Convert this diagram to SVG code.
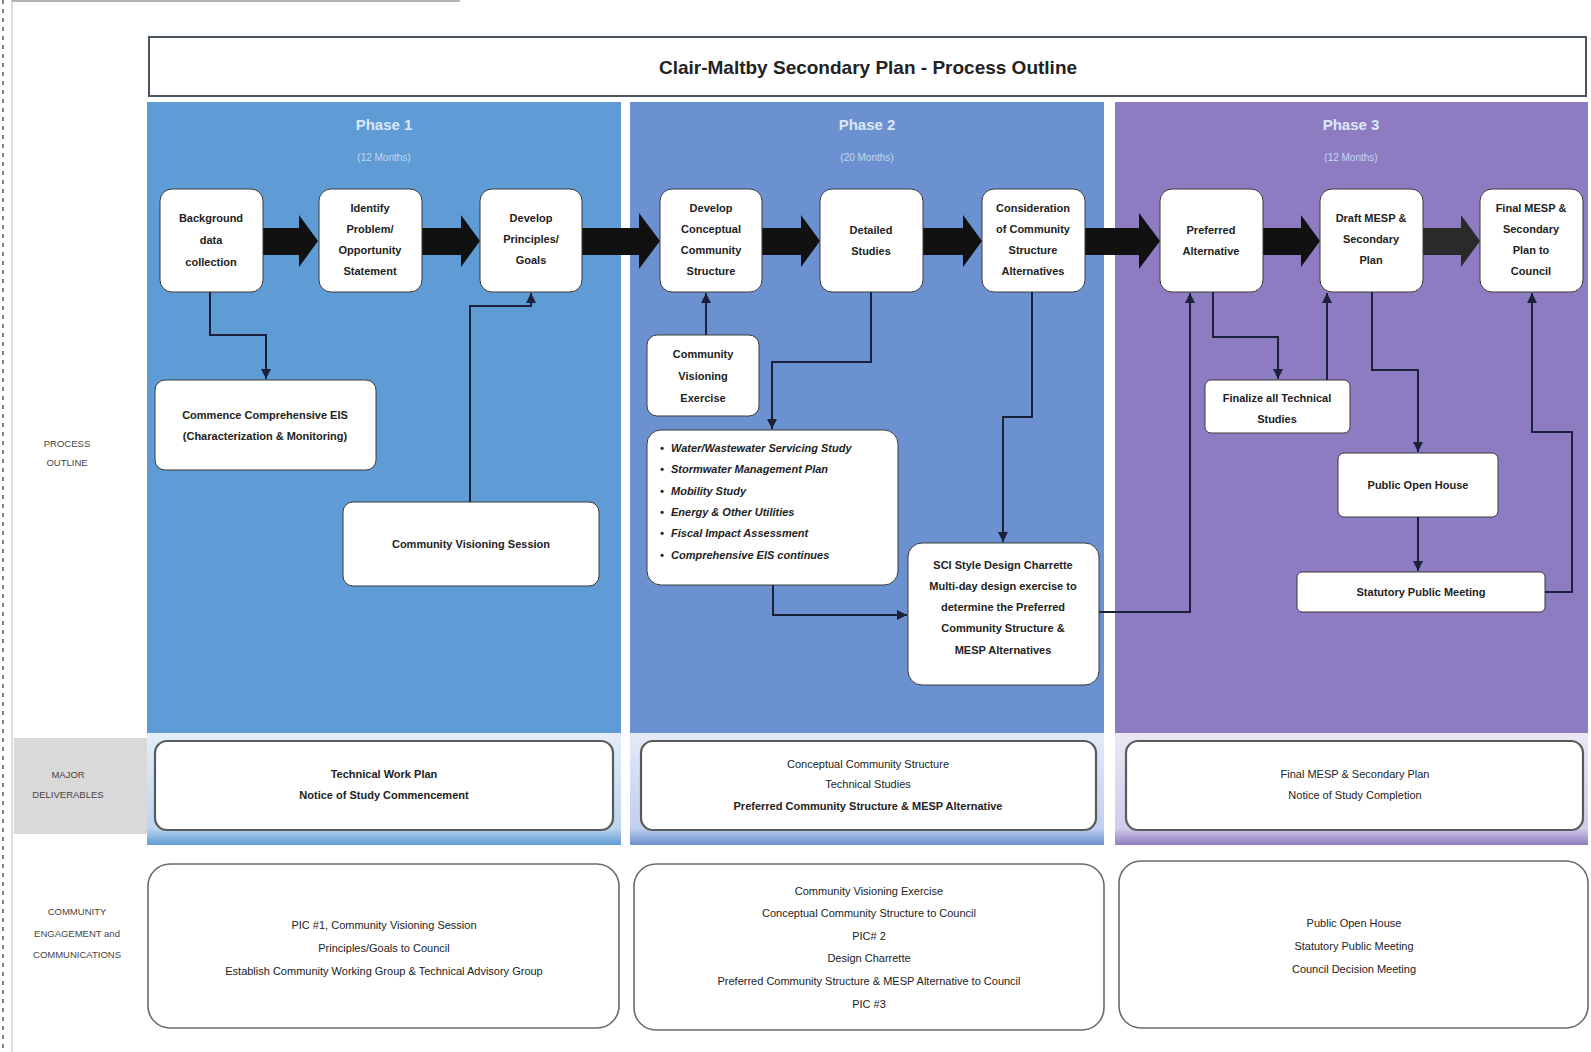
<svg xmlns="http://www.w3.org/2000/svg" width="1591" height="1052" viewBox="0 0 1591 1052">
<style>
.t{font-family:"Liberation Sans",Arial,sans-serif;fill:#222;text-anchor:middle}
.nb{font-size:11px;font-weight:bold}
.node{fill:#fff;stroke:#3a3a3a;stroke-width:1}
.side{font-size:9.5px;fill:#444}
.del{fill:#fff;stroke:#5a5a5a;stroke-width:2.2}
.eng{fill:#fff;stroke:#6a6a6a;stroke-width:1.6}
.bt{font-size:11px}
.big{fill:#111}
.con{fill:none;stroke:#1b2138;stroke-width:2}
.ph{font-size:15px;font-weight:bold;fill:#dbe8f7}
.phs{font-size:10px;fill:#c4d8ef}
.it{font-family:"Liberation Sans",Arial,sans-serif;font-size:11px;font-style:italic;font-weight:bold;fill:#222}
</style>
<defs>
<marker id="ah" viewBox="0 0 10 10" refX="10" refY="5" markerWidth="10" markerHeight="10" markerUnits="userSpaceOnUse" orient="auto">
<path d="M0,0 L10,5 L0,10 z" fill="#1b2138"/>
</marker>
<linearGradient id="g1" x1="0" y1="0" x2="0" y2="1">
<stop offset="0" stop-color="#e3eef9"/><stop offset="0.85" stop-color="#bcd5ee"/><stop offset="1" stop-color="#5f9bd4"/>
</linearGradient>
<linearGradient id="g2" x1="0" y1="0" x2="0" y2="1">
<stop offset="0" stop-color="#e4eaf7"/><stop offset="0.85" stop-color="#c0cfee"/><stop offset="1" stop-color="#6c91d0"/>
</linearGradient>
<linearGradient id="g3" x1="0" y1="0" x2="0" y2="1">
<stop offset="0" stop-color="#ece7f6"/><stop offset="0.85" stop-color="#d3cbea"/><stop offset="1" stop-color="#8e7cc3"/>
</linearGradient>
</defs>
<rect width="1591" height="1052" fill="#fff"/>
<line x1="3" y1="0" x2="3" y2="1052" stroke="#555" stroke-width="1.5" stroke-dasharray="4 5"/>
<line x1="12" y1="0" x2="12" y2="1052" stroke="#bbb" stroke-width="1"/>
<line x1="12" y1="1" x2="460" y2="1" stroke="#999" stroke-width="1.5"/>

<g id="side-labels">
<text class="t side" x="67" y="447">PROCESS</text>
<text class="t side" x="67" y="466">OUTLINE</text>
<rect x="14" y="738" width="133" height="96" fill="#d9d9d9"/>
<text class="t side" x="68" y="778">MAJOR</text>
<text class="t side" x="68" y="798">DELIVERABLES</text>
<text class="t side" x="77" y="915">COMMUNITY</text>
<text class="t side" x="77" y="937">ENGAGEMENT and</text>
<text class="t side" x="77" y="958">COMMUNICATIONS</text>
</g>

<g id="title">
<rect x="149" y="37" width="1437" height="59" fill="#fff" stroke="#4a5560" stroke-width="2"/>
<text class="t" x="868" y="74" font-size="19" font-weight="bold">Clair-Maltby Secondary Plan - Process Outline</text>
</g>

<g id="phase1">
<rect x="147" y="102" width="474" height="743" fill="#5f9bd4"/>
<rect x="147" y="733" width="474" height="112" fill="url(#g1)"/>
<text class="t ph" x="384" y="130">Phase 1</text>
<text class="t phs" x="384" y="161">(12 Months)</text>
</g>
<g id="phase2">
<rect x="630" y="102" width="474" height="743" fill="#6c91d0"/>
<rect x="630" y="733" width="474" height="112" fill="url(#g2)"/>
<text class="t ph" x="867" y="130">Phase 2</text>
<text class="t phs" x="867" y="161">(20 Months)</text>
</g>
<g id="phase3">
<rect x="1115" y="102" width="473" height="743" fill="#8e7cc3"/>
<rect x="1115" y="733" width="473" height="112" fill="url(#g3)"/>
<text class="t ph" x="1351" y="130">Phase 3</text>
<text class="t phs" x="1351" y="161">(12 Months)</text>
</g>

<g id="process-arrows">
<polygon class="big" points="263,228 299,228 299,215 318,241 299,267 299,255 263,255"/>
<polygon class="big" points="422,228 461,228 461,215 480,241 461,267 461,255 422,255"/>
<polygon class="big" points="582,228 639,228 639,213 660,241 639,269 639,255 582,255"/>
<polygon class="big" points="762,228 801,228 801,215 820,241 801,267 801,255 762,255"/>
<polygon class="big" points="923,228 963,228 963,215 982,241 963,267 963,255 923,255"/>
<polygon class="big" points="1085,228 1139,228 1139,213 1160,241 1139,269 1139,255 1085,255"/>
<polygon class="big" points="1263,228 1301,228 1301,215 1320,241 1301,267 1301,255 1263,255"/>
<polygon points="1423,228 1461,228 1461,215 1480,241 1461,267 1461,255 1423,255" fill="#2a2a2a"/>
</g>

<g id="n-background">
<rect class="node" x="160" y="189" width="103" height="103" rx="12"/>
<text class="t nb" x="211" y="222">Background</text>
<text class="t nb" x="211" y="244">data</text>
<text class="t nb" x="211" y="266">collection</text>
</g>
<g id="n-identify">
<rect class="node" x="319" y="189" width="103" height="103" rx="12"/>
<text class="t nb" x="370" y="212">Identify</text>
<text class="t nb" x="370" y="233">Problem/</text>
<text class="t nb" x="370" y="254">Opportunity</text>
<text class="t nb" x="370" y="275">Statement</text>
</g>
<g id="n-principles">
<rect class="node" x="480" y="189" width="102" height="103" rx="12"/>
<text class="t nb" x="531" y="222">Develop</text>
<text class="t nb" x="531" y="243">Principles/</text>
<text class="t nb" x="531" y="264">Goals</text>
</g>
<g id="n-conceptual">
<rect class="node" x="660" y="189" width="102" height="103" rx="12"/>
<text class="t nb" x="711" y="212">Develop</text>
<text class="t nb" x="711" y="233">Conceptual</text>
<text class="t nb" x="711" y="254">Community</text>
<text class="t nb" x="711" y="275">Structure</text>
</g>
<g id="n-detailed">
<rect class="node" x="820" y="189" width="103" height="103" rx="12"/>
<text class="t nb" x="871" y="234">Detailed</text>
<text class="t nb" x="871" y="255">Studies</text>
</g>
<g id="n-consideration">
<rect class="node" x="982" y="189" width="103" height="103" rx="12"/>
<text class="t nb" x="1033" y="212">Consideration</text>
<text class="t nb" x="1033" y="233">of Community</text>
<text class="t nb" x="1033" y="254">Structure</text>
<text class="t nb" x="1033" y="275">Alternatives</text>
</g>
<g id="n-preferred">
<rect class="node" x="1160" y="189" width="103" height="103" rx="12"/>
<text class="t nb" x="1211" y="234">Preferred</text>
<text class="t nb" x="1211" y="255">Alternative</text>
</g>
<g id="n-draft">
<rect class="node" x="1320" y="189" width="103" height="103" rx="12"/>
<text class="t nb" x="1371" y="222">Draft MESP &amp;</text>
<text class="t nb" x="1371" y="243">Secondary</text>
<text class="t nb" x="1371" y="264">Plan</text>
</g>
<g id="n-final">
<rect class="node" x="1480" y="189" width="103" height="103" rx="12"/>
<text class="t nb" x="1531" y="212">Final MESP &amp;</text>
<text class="t nb" x="1531" y="233">Secondary</text>
<text class="t nb" x="1531" y="254">Plan to</text>
<text class="t nb" x="1531" y="275">Council</text>
</g>

<g id="n-eis">
<rect class="node" x="155" y="380" width="221" height="90" rx="10"/>
<text class="t nb" x="265" y="419">Commence Comprehensive EIS</text>
<text class="t nb" x="265" y="440">(Characterization &amp; Monitoring)</text>
</g>
<g id="n-visioning-session">
<rect class="node" x="343" y="502" width="256" height="84" rx="10"/>
<text class="t nb" x="471" y="548">Community Visioning Session</text>
</g>
<g id="n-visioning-exercise">
<rect class="node" x="647" y="335" width="112" height="81" rx="10"/>
<text class="t nb" x="703" y="358">Community</text>
<text class="t nb" x="703" y="380">Visioning</text>
<text class="t nb" x="703" y="402">Exercise</text>
</g>
<g id="n-studies">
<rect class="node" x="647" y="430" width="251" height="155" rx="14"/>
<text class="it" x="660" y="452">•</text><text class="it" x="671" y="452">Water/Wastewater Servicing Study</text>
<text class="it" x="660" y="473">•</text><text class="it" x="671" y="473">Stormwater Management Plan</text>
<text class="it" x="660" y="495">•</text><text class="it" x="671" y="495">Mobility Study</text>
<text class="it" x="660" y="516">•</text><text class="it" x="671" y="516">Energy &amp; Other Utilities</text>
<text class="it" x="660" y="537">•</text><text class="it" x="671" y="537">Fiscal Impact Assessment</text>
<text class="it" x="660" y="559">•</text><text class="it" x="671" y="559">Comprehensive EIS continues</text>
</g>
<g id="n-charrette">
<rect class="node" x="908" y="543" width="191" height="142" rx="14"/>
<text class="t nb" x="1003" y="569">SCI Style Design Charrette</text>
<text class="t nb" x="1003" y="590">Multi-day design exercise to</text>
<text class="t nb" x="1003" y="611">determine the Preferred</text>
<text class="t nb" x="1003" y="632">Community Structure &amp;</text>
<text class="t nb" x="1003" y="654">MESP Alternatives</text>
</g>
<g id="n-finalize">
<rect class="node" x="1205" y="380" width="145" height="53" rx="6"/>
<text class="t nb" x="1277" y="402">Finalize all Technical</text>
<text class="t nb" x="1277" y="423">Studies</text>
</g>
<g id="n-openhouse">
<rect class="node" x="1338" y="453" width="160" height="64" rx="6"/>
<text class="t nb" x="1418" y="489">Public Open House</text>
</g>
<g id="n-statutory">
<rect class="node" x="1297" y="572" width="248" height="40" rx="5"/>
<text class="t nb" x="1421" y="596">Statutory Public Meeting</text>
</g>

<g id="connectors">
<path class="con" d="M210,292 V335 H266 V379" marker-end="url(#ah)"/>
<path class="con" d="M470,502 V306 H531 V293" marker-end="url(#ah)"/>
<path class="con" d="M706,335 V293" marker-end="url(#ah)"/>
<path class="con" d="M871,292 V362 H772 V429" marker-end="url(#ah)"/>
<path class="con" d="M1032,292 V417 H1003 V542" marker-end="url(#ah)"/>
<path class="con" d="M773,585 V615 H907" marker-end="url(#ah)"/>
<path class="con" d="M1099,612 H1190 V293" marker-end="url(#ah)"/>
<path class="con" d="M1213,292 V337 H1278 V379" marker-end="url(#ah)"/>
<path class="con" d="M1327,380 V293" marker-end="url(#ah)"/>
<path class="con" d="M1372,292 V370 H1418 V452" marker-end="url(#ah)"/>
<path class="con" d="M1418,517 V571" marker-end="url(#ah)"/>
<path class="con" d="M1545,592 H1572 V432 H1532 V293" marker-end="url(#ah)"/>
</g>

<g id="d-phase1">
<rect class="del" x="155" y="741" width="458" height="89" rx="12"/>
<text class="t bt" x="384" y="778" font-weight="bold">Technical Work Plan</text>
<text class="t bt" x="384" y="799" font-weight="bold">Notice of Study Commencement</text>
</g>
<g id="d-phase2">
<rect class="del" x="641" y="741" width="455" height="89" rx="12"/>
<text class="t bt" x="868" y="768" fill="#444">Conceptual Community Structure</text>
<text class="t bt" x="868" y="788" fill="#444">Technical Studies</text>
<text class="t bt" x="868" y="810" font-weight="bold">Preferred Community Structure &amp; MESP Alternative</text>
</g>
<g id="d-phase3">
<rect class="del" x="1126" y="741" width="457" height="89" rx="12"/>
<text class="t bt" x="1355" y="778" fill="#444">Final MESP &amp; Secondary Plan</text>
<text class="t bt" x="1355" y="799" fill="#444">Notice of Study Completion</text>
</g>

<g id="e-phase1">
<rect class="eng" x="148" y="864" width="471" height="164" rx="22"/>
<text class="t bt" x="384" y="929">PIC #1, Community Visioning Session</text>
<text class="t bt" x="384" y="952">Principles/Goals to Council</text>
<text class="t bt" x="384" y="975">Establish Community Working Group &amp; Technical Advisory Group</text>
</g>
<g id="e-phase2">
<rect class="eng" x="634" y="864" width="470" height="166" rx="22"/>
<text class="t bt" x="869" y="895">Community Visioning Exercise</text>
<text class="t bt" x="869" y="917" fill="#555">Conceptual Community Structure to Council</text>
<text class="t bt" x="869" y="940" fill="#555">PIC# 2</text>
<text class="t bt" x="869" y="962" fill="#555">Design Charrette</text>
<text class="t bt" x="869" y="985" fill="#555">Preferred Community Structure &amp; MESP Alternative to Council</text>
<text class="t bt" x="869" y="1008" fill="#555">PIC #3</text>
</g>
<g id="e-phase3">
<rect class="eng" x="1119" y="861" width="469" height="167" rx="22"/>
<text class="t bt" x="1354" y="927" fill="#555">Public Open House</text>
<text class="t bt" x="1354" y="950" fill="#555">Statutory Public Meeting</text>
<text class="t bt" x="1354" y="973" fill="#555">Council Decision Meeting</text>
</g>
</svg>
